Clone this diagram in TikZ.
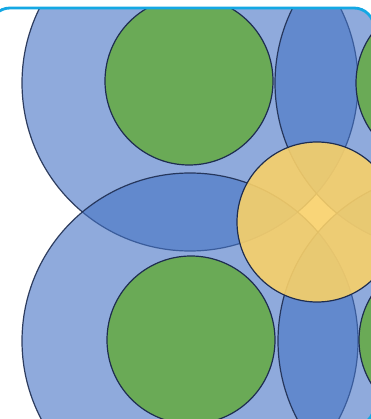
\documentclass[tikz,border=0pt]{standalone}
\usepackage{tikz}

\definecolor{ringblue}{RGB}{68,114,196}
\definecolor{leafgreen}{RGB}{106,170,86}
\definecolor{coreyellow}{RGB}{248,208,105}
\definecolor{edgenavy}{RGB}{30,45,80}
\definecolor{framecyan}{RGB}{20,168,228}

\begin{document}
\begin{tikzpicture}[
    x=1pt, y=-1pt,
    outer/.style = {draw=edgenavy, line width=1.2pt, circle, fill=ringblue, fill opacity=0.6, draw opacity=0.9, minimum size=336pt, inner sep=0pt},
    inner/.style = {draw=edgenavy, line width=1.2pt, circle, fill=leafgreen, minimum size=168pt, inner sep=0pt},
    core/.style = {draw=edgenavy, line width=1.2pt, circle, fill=coreyellow, fill opacity=0.9, minimum size=160pt, inner sep=0pt}
]
    \useasboundingbox (0,0) rectangle (370,419);

    \begin{scope}
        \clip[rounded corners=20pt] (-10,8) rectangle (374,426);

        % Grands cercles (Outer)
        \node[outer] (TL) at (190,83) {};
        \node[outer] (BL) at (190,341) {};
        \node[outer] (TR) at (443,83) {};
        \node[outer] (BR) at (446,341) {};

        % Cercles verts (Inner)
        \node[inner] (gTL) at (189,81) {};
        \node[inner] (gBL) at (191,340) {};
        \node[inner] (gTR) at (440,83) {};
        \node[inner] (gBR) at (443,340) {};

        % Cercle central (Core)
        \node[core] (C) at (317,222) {};
    \end{scope}

    % Cadre (Frame)
    \draw[framecyan, line width=2.8pt, rounded corners=20pt] (-10,8) rectangle (374,426);

\end{tikzpicture}
\end{document}
